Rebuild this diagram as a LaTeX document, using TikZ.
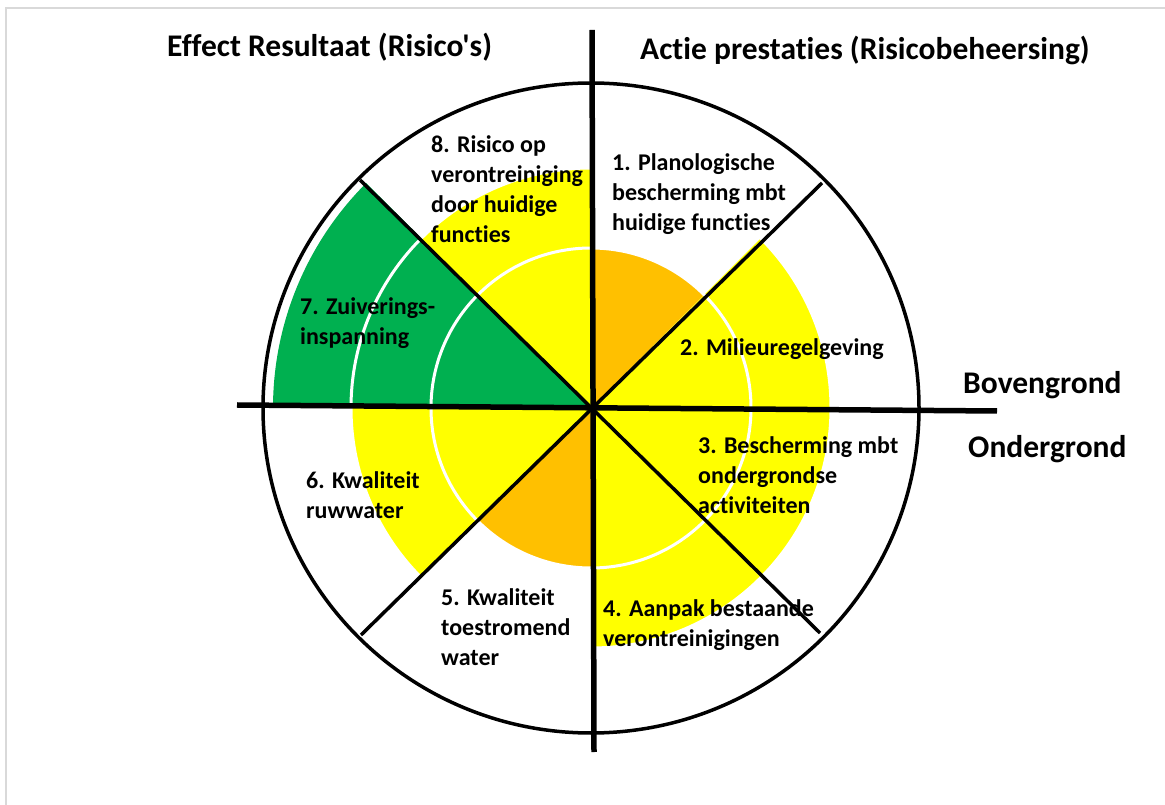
\documentclass[tikz,border=0pt]{standalone}
\usepackage{fontspec}
\setmainfont{Carlito}[Ligatures={NoCommon,TeXOff}]
\definecolor{ryellow}{HTML}{FFFF00}
\definecolor{rorange}{HTML}{FFC000}
\definecolor{rgreen}{HTML}{00B050}
\definecolor{rframe}{HTML}{D9D9D9}
\begin{document}
\begin{tikzpicture}[x=1pt,y=1pt,
  lbl/.style={anchor=base west, inner sep=0pt, align=left, font=\fontsize{24}{30}\selectfont\bfseries},
  hdr/.style={anchor=base west, inner sep=0pt, font=\fontsize{31.5}{38}\selectfont\bfseries},
  axisline/.style={line width=5.5pt},
  diagline/.style={line width=3.5pt},
  ringline/.style={draw=white, line width=3pt}]
\useasboundingbox (0,0) rectangle (1165,804);
\clip (0,0) rectangle (1165,804);
\fill[white] (0,0) rectangle (1165,804);
\draw[rframe, line width=2pt] (6,-10) -- (6,796) -- (1180,796);
\coordinate (c) at (591,396);
% sectors
\foreach \a/\b/\r/\col in {45/90/160/rorange, 0/45/240/ryellow, -45/0/240/ryellow, -90/-45/240/ryellow, -135/-90/160/rorange, 180/225/240/ryellow, 135/180/318/rgreen, 90/135/240/ryellow}
  \fill[\col] (c) -- ++(\a:\r pt) arc[start angle=\a, end angle=\b, radius=\r pt] -- cycle;
\draw[ringline] (c) circle[radius=160pt];
\draw[ringline] (c) circle[radius=240pt];
% outer circle
\draw[line width=3.5pt] (c) ellipse[x radius=328pt, y radius=325pt];
% diagonals
\coordinate (d1) at (360,624);
\coordinate (d2) at (820,171);
\coordinate (d3) at (822,621);
\coordinate (d4) at (361,169);
\draw[diagline] (d1) -- (d2);
\draw[diagline] (d3) -- (d4);
% axes
\coordinate (v1) at (592,774);
\coordinate (v2) at (594,52);
\coordinate (h1) at (237,399);
\coordinate (h2) at (997,393);
\draw[axisline] (v1) -- (v2);
\draw[axisline] (h1) -- (h2);
% headers
\node[hdr] (tleft) at (167,747) {Effect Resultaat (Risico's)};
\node[hdr] (tright) at (640,744) {Actie prestaties (Risicobeheersing)};
\node[hdr] (boven) at (963,410) {Bovengrond};
\node[hdr] (onder) at (968,346) {Ondergrond};
% labels (anchor at baseline of last line)
\node[lbl] (s8) at (431,561) {8. Risico op\\verontreiniging\\door huidige\\functies};
\node[lbl] (s1) at (612,573) {1. Planologische\\bescherming mbt\\huidige functies};
\node[lbl] (s2) at (680,448) {2. Milieuregelgeving};
\node[lbl] (s3) at (698,290) {3. Bescherming mbt\\ondergrondse\\activiteiten};
\node[lbl] (s4) at (603,158) {4. Aanpak bestaande\\verontreinigingen};
\node[lbl] (s5) at (441,139) {5. Kwaliteit\\toestromend\\water};
\node[lbl] (s6) at (306,285) {6. Kwaliteit\\ruwwater};
\node[lbl] (s7) at (300,459) {7. Zuiverings-\\inspanning};
\end{tikzpicture}
\end{document}
